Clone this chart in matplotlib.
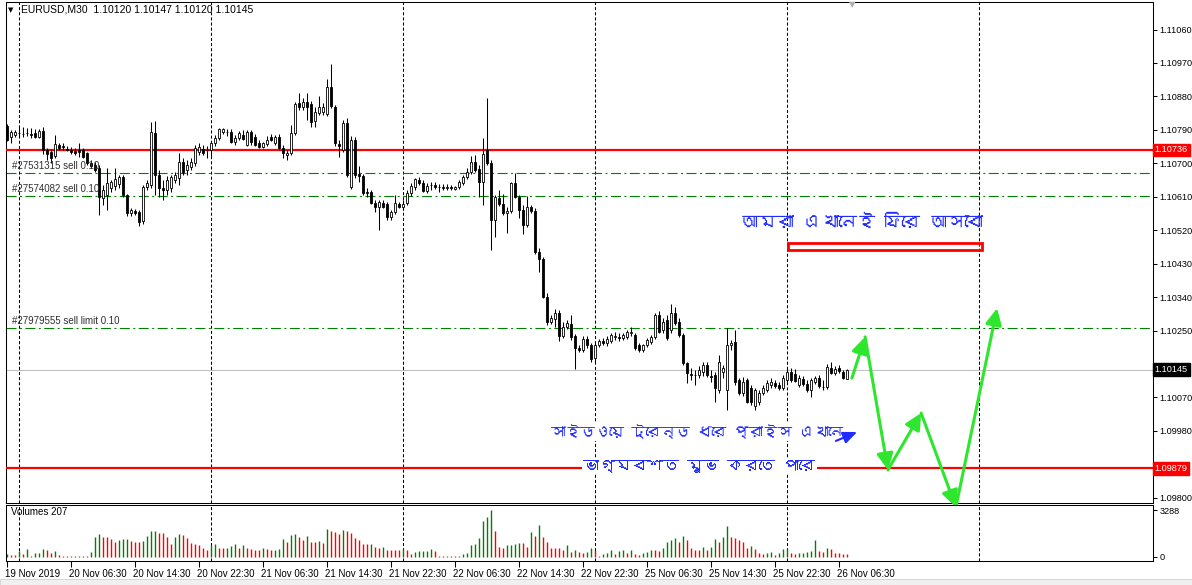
import numpy as np
import matplotlib
matplotlib.use("Agg")
import matplotlib.pyplot as plt
import matplotlib.transforms as mtransforms
from matplotlib import font_manager
from matplotlib.ft2font import FT2Font
from matplotlib.patches import Rectangle

# EURUSD M30 bars, prices in points (1e-5)
opens = [
    110800, 110770, 110776, 110781, 110779, 110781, 110779, 110781, 110770, 110787,
    110736, 110730, 110719, 110749, 110746, 110738, 110736, 110733, 110736, 110736,
    110727, 110701, 110695, 110687, 110606, 110614, 110633, 110639, 110644, 110663,
    110614, 110566, 110571, 110569, 110544, 110636, 110641, 110781, 110668, 110633,
    110628, 110633, 110655, 110660, 110703, 110682, 110690, 110701, 110730, 110738,
    110736, 110736, 110754, 110768, 110784, 110784, 110784, 110757, 110768, 110776,
    110749, 110784, 110770, 110754, 110744, 110752, 110770, 110754, 110770, 110741,
    110722, 110727, 110781, 110862, 110851, 110865, 110859, 110814, 110835, 110838,
    110832, 110905, 110851, 110752, 110736, 110808, 110636, 110762, 110671, 110666,
    110623, 110623, 110593, 110582, 110593, 110590, 110555, 110569, 110590, 110582,
    110593, 110620, 110636, 110655, 110647, 110625, 110641, 110641, 110636, 110636,
    110633, 110636, 110631, 110636, 110647, 110663, 110676, 110703, 110684, 110650,
    110736, 110701, 110547, 110606, 110590, 110566, 110571, 110647, 110609, 110574,
    110534, 110582, 110571, 110461, 110442, 110340, 110273, 110281, 110297, 110235,
    110259, 110267, 110235, 110203, 110198, 110227, 110211, 110176, 110211, 110222,
    110216, 110222, 110233, 110233, 110230, 110233, 110243, 110238, 110211, 110198,
    110211, 110219, 110233, 110292, 110251, 110278, 110251, 110297, 110273, 110238,
    110163, 110133, 110131, 110130, 110138, 110157, 110128, 110130, 110090, 110138,
    110090, 110211, 110219, 110117, 110082, 110117, 110095, 110047, 110058, 110082,
    110090, 110103, 110109, 110103, 110095, 110117, 110138, 110133, 110103, 110120,
    110106, 110090, 110111, 110122, 110098, 110098, 110149, 110136, 110149, 110138,
    110120,
]
highs = [
    110805, 110789, 110789, 110797, 110797, 110795, 110795, 110792, 110792, 110797,
    110741, 110736, 110776, 110754, 110754, 110746, 110744, 110741, 110754, 110741,
    110730, 110709, 110703, 110695, 110641, 110687, 110655, 110687, 110668, 110668,
    110617, 110579, 110577, 110574, 110641, 110655, 110811, 110814, 110682, 110655,
    110666, 110668, 110676, 110727, 110714, 110709, 110714, 110749, 110754, 110749,
    110746, 110760, 110776, 110795, 110795, 110792, 110792, 110776, 110787, 110789,
    110789, 110789, 110779, 110762, 110757, 110773, 110779, 110776, 110779, 110749,
    110736, 110803, 110865, 110889, 110875, 110889, 110867, 110851, 110881, 110862,
    110926, 110967, 110857, 110762, 110816, 110822, 110773, 110770, 110692, 110671,
    110633, 110628, 110601, 110601, 110601, 110596, 110574, 110614, 110596, 110601,
    110628, 110647, 110660, 110663, 110655, 110647, 110650, 110650, 110644, 110644,
    110644, 110641, 110639, 110655, 110668, 110687, 110719, 110722, 110695, 110768,
    110875, 110709, 110614, 110628, 110617, 110582, 110650, 110674, 110614, 110588,
    110612, 110588, 110579, 110472, 110448, 110351, 110292, 110308, 110305, 110273,
    110278, 110292, 110241, 110211, 110235, 110235, 110216, 110219, 110227, 110230,
    110235, 110243, 110246, 110243, 110243, 110251, 110259, 110243, 110216, 110214,
    110230, 110238, 110297, 110302, 110284, 110292, 110321, 110313, 110284, 110243,
    110165, 110149, 110144, 110154, 110165, 110165, 110144, 110138, 110184, 110157,
    110257, 110224, 110251, 110122, 110125, 110122, 110103, 110095, 110090, 110103,
    110117, 110122, 110117, 110111, 110130, 110149, 110149, 110147, 110130, 110128,
    110117, 110122, 110128, 110130, 110117, 110160, 110165, 110154, 110157, 110144,
    110147,
]
lows = [
    110760, 110754, 110770, 110770, 110770, 110773, 110768, 110768, 110768, 110725,
    110709, 110701, 110714, 110736, 110736, 110733, 110725, 110722, 110717, 110714,
    110695, 110687, 110676, 110561, 110588, 110574, 110623, 110628, 110633, 110609,
    110558, 110558, 110561, 110531, 110536, 110628, 110633, 110614, 110609, 110601,
    110614, 110623, 110647, 110641, 110668, 110668, 110682, 110692, 110722, 110722,
    110714, 110719, 110746, 110762, 110779, 110773, 110754, 110749, 110762, 110762,
    110746, 110749, 110746, 110741, 110741, 110746, 110760, 110749, 110738, 110714,
    110709, 110722, 110776, 110843, 110843, 110816, 110797, 110797, 110830, 110830,
    110827, 110848, 110746, 110717, 110730, 110663, 110631, 110660, 110650, 110614,
    110609, 110590, 110569, 110520, 110579, 110547, 110547, 110563, 110579, 110574,
    110588, 110612, 110628, 110641, 110623, 110620, 110628, 110631, 110623, 110628,
    110628, 110628, 110628, 110631, 110641, 110658, 110671, 110676, 110609, 110588,
    110695, 110467, 110501, 110585, 110561, 110512, 110566, 110606, 110553, 110510,
    110528, 110566, 110456, 110407, 110337, 110265, 110267, 110259, 110222, 110230,
    110254, 110224, 110147, 110192, 110192, 110203, 110165, 110165, 110206, 110211,
    110208, 110216, 110224, 110222, 110224, 110227, 110235, 110198, 110192, 110192,
    110206, 110214, 110227, 110243, 110243, 110224, 110243, 110265, 110233, 110157,
    110109, 110117, 110103, 110122, 110128, 110125, 110111, 110058, 110082, 110122,
    110036, 110198, 110103, 110076, 110074, 110055, 110050, 110036, 110050, 110076,
    110085, 110095, 110095, 110090, 110090, 110111, 110111, 110111, 110098, 110101,
    110085, 110071, 110106, 110095, 110090, 110093, 110133, 110130, 110136, 110120,
    110120,
]
closes = [
    110762, 110784, 110784, 110782, 110779, 110781, 110776, 110770, 110787, 110736,
    110725, 110714, 110752, 110741, 110744, 110736, 110730, 110727, 110730, 110717,
    110701, 110692, 110682, 110609, 110628, 110647, 110650, 110658, 110663, 110614,
    110566, 110574, 110566, 110542, 110636, 110647, 110784, 110668, 110633, 110628,
    110655, 110663, 110668, 110703, 110676, 110695, 110703, 110741, 110744, 110727,
    110737, 110754, 110768, 110792, 110792, 110785, 110757, 110768, 110781, 110765,
    110784, 110757, 110749, 110744, 110754, 110762, 110762, 110770, 110741, 110727,
    110727, 110781, 110859, 110851, 110865, 110851, 110811, 110838, 110851, 110851,
    110905, 110854, 110754, 110746, 110808, 110668, 110762, 110668, 110666, 110620,
    110621, 110593, 110582, 110596, 110582, 110555, 110569, 110593, 110582, 110590,
    110620, 110639, 110658, 110647, 110625, 110639, 110642, 110636, 110637, 110633,
    110636, 110633, 110636, 110650, 110663, 110676, 110703, 110682, 110650, 110725,
    110701, 110547, 110609, 110590, 110566, 110571, 110647, 110609, 110574, 110534,
    110582, 110571, 110461, 110442, 110340, 110273, 110284, 110297, 110235, 110259,
    110270, 110233, 110203, 110198, 110227, 110211, 110173, 110211, 110222, 110216,
    110227, 110238, 110234, 110230, 110238, 110246, 110246, 110203, 110198, 110211,
    110224, 110233, 110292, 110246, 110273, 110230, 110297, 110270, 110238, 110163,
    110136, 110131, 110130, 110144, 110157, 110130, 110125, 110095, 110165, 110149,
    110211, 110216, 110111, 110082, 110111, 110058, 110058, 110090, 110082, 110095,
    110109, 110111, 110101, 110095, 110122, 110138, 110117, 110114, 110122, 110106,
    110090, 110117, 110122, 110101, 110099, 110152, 110136, 110147, 110141, 110122,
    110145,
]
volumes = [
    221, 136, 130, 391, 221, 527, 85, 272, 289, 527,
    493, 255, 391, 119, 102, 60, 40, 55, 85, 100,
    70, 357, 1411, 1581, 1400, 1380, 1275, 1037, 1156, 1241,
    1250, 1122, 1071, 1050, 1122, 1496, 1802, 1815, 1700, 1690,
    1411, 935, 1411, 1581, 1530, 1360, 952, 901, 816, 646,
    510, 867, 901, 646, 595, 646, 765, 901, 595, 816,
    646, 527, 510, 476, 595, 561, 476, 510, 561, 1275,
    1037, 1547, 1615, 1411, 1156, 1445, 1071, 1060, 1105, 986,
    1955, 1800, 1750, 1615, 1887, 1850, 1666, 1300, 1156, 935,
    901, 920, 697, 646, 731, 476, 470, 465, 460, 561,
    476, 221, 357, 391, 400, 410, 555, 411, 103, 62,
    60, 103, 62, 103, 205, 308, 822, 884, 1336, 2528,
    2815, 3288, 1850, 719, 658, 822, 843, 925, 966, 960,
    719, 1747, 1439, 2261, 1377, 1027, 658, 617, 596, 514,
    822, 349, 514, 330, 300, 320, 616, 514, 103, 205,
    267, 514, 205, 411, 473, 308, 473, 205, 164, 247,
    349, 514, 473, 452, 616, 1027, 1192, 1336, 1027, 1438,
    1192, 658, 514, 473, 678, 473, 719, 1274, 1027, 1397,
    2158, 1377, 1295, 1192, 1027, 617, 760, 575, 247, 185,
    308, 370, 164, 308, 555, 575, 308, 205, 267, 308,
    349, 411, 1192, 411, 370, 658, 575, 267, 260, 215,
    207,
]

time_labels = ["19 Nov 2019", "20 Nov 06:30", "20 Nov 14:30", "20 Nov 22:30",
               "21 Nov 06:30", "21 Nov 14:30", "21 Nov 22:30", "22 Nov 06:30",
               "22 Nov 14:30", "22 Nov 22:30", "25 Nov 06:30", "25 Nov 14:30",
               "25 Nov 22:30", "26 Nov 06:30"]
label_bars = [0, 16, 32, 48, 64, 80, 96, 112, 128, 144, 160, 176, 192, 208]
day_separators = [3, 51, 99, 147, 195, 243]

price_ticks = [1.11060, 1.10970, 1.10880, 1.10790, 1.10700, 1.10610, 1.10520, 1.10430,
               1.10340, 1.10250, 1.10160, 1.10070, 1.09980, 1.09890, 1.09800]
hidden_ticks = [1.10160, 1.09890]  # sit under the price tags

red_levels = [1.10736, 1.09879]
order_names = ["#27531315 sell 0.10", "#27574082 sell 0.10", "#27979555 sell limit 0.10"]
order_prices = [1.10675, 1.10613, 1.10256]

# hand drawn annotations (bar index, price)
zone_bars = [195.2, 243.7]
zone_prices = [1.10468, 1.10486]
path_bars = [211.3, 214.6, 220.3, 228.6, 237.3, 247.6]
path_prices = [1.10122, 1.10233, 1.09875, 1.10028, 1.09775, 1.10310]
hint_bars = [207.3, 212.6]
hint_prices = [1.09953, 1.09977]
notes = ["আমরা এখানেই ফিরে আসবো", "সাইডওয়ে ট্রেন্ড ধরে প্রাইস এখানে", "ভাগ্যবশত মুভ করতে পারে"]
note_bars = [213.8, 172.6, 173.1]
note_prices = [1.10542, 1.09977, 1.09885]
note_sizes = [13, 10.5, 11.5]

W, H, DPI = 1192, 585, 100
BLUE = "#1f2bff"
LIME = "#2ee62e"


def font_with(ch):
    """First installed family that has a glyph for ch."""
    for f in font_manager.fontManager.ttflist:
        try:
            if ord(ch) in FT2Font(f.fname).get_charmap():
                return f.name
        except Exception:
            continue
    return None


bn = font_with("আ")
bn_family = [bn, "DejaVu Sans"] if bn else ["DejaVu Sans"]

plt.rcParams["font.family"] = ["Liberation Sans", "DejaVu Sans"]
plt.rcParams["lines.scale_dashes"] = False


def box(x0, y0, x1, y1):
    return [x0 / W, 1 - y1 / H, (x1 - x0) / W, (y1 - y0) / H]


fig = plt.figure(figsize=(W / DPI, H / DPI), dpi=DPI)
ax = fig.add_axes(box(6, 2, 1153, 503))
vax = fig.add_axes(box(6, 505, 1153, 561), sharex=ax)

o, h, l, c = (np.array(a) / 1e5 for a in (opens, highs, lows, closes))
vol = np.array(volumes)
x = np.arange(len(c))
bull = c > o

# candles
ax.vlines(x, l, h, color="black", lw=0.75, zorder=4)
ax.bar(x, np.maximum(np.abs(c - o), 0.000004), bottom=np.minimum(o, c), width=0.55,
       color=np.where(bull, "white", "black"), edgecolor="black", linewidth=0.6, zorder=5)

# levels
for p in red_levels:
    ax.axhline(p, color="red", lw=1.6, zorder=3)
ax.axhline(c[-1], color="#c0c0c0", lw=0.75, zorder=2)
for name, p in zip(order_names, order_prices):
    ax.axhline(p, color="#008000", lw=0.8, ls=(0, (7.2, 2.5, 1.4, 2.5)), zorder=2)
    ax.annotate(name, (1.3, p), xytext=(0, 1.5), textcoords="offset points",
                fontsize=7, color="#303030", va="bottom", ha="left", zorder=6)

for b in day_separators:
    for a in (ax, vax):
        a.axvline(b, color="black", lw=0.75, ls=(0, (2.2, 1.5)), zorder=1)

# drawn objects
ax.add_patch(Rectangle((zone_bars[0], zone_prices[0]), zone_bars[1] - zone_bars[0],
                       zone_prices[1] - zone_prices[0], fill=False, ec="red", lw=2.0, zorder=6))
for i in range(len(path_bars) - 1):
    ax.annotate("", xy=(path_bars[i + 1], path_prices[i + 1]), xytext=(path_bars[i], path_prices[i]),
                arrowprops=dict(arrowstyle="-|>,head_length=0.7,head_width=0.35", color=LIME,
                                lw=2.2, mutation_scale=14, shrinkA=0, shrinkB=0),
                annotation_clip=False, zorder=7)
ax.annotate("", xy=(hint_bars[1], hint_prices[1]), xytext=(hint_bars[0], hint_prices[0]),
            arrowprops=dict(arrowstyle="-|>,head_length=0.7,head_width=0.3", color=BLUE,
                            lw=1.5, mutation_scale=12, shrinkA=0, shrinkB=0), zorder=8)

ax.text(note_bars[0], note_prices[0], notes[0], family=bn_family, fontsize=note_sizes[0],
        color=BLUE, ha="center", va="center", zorder=7)
for t, b, p, fs in zip(notes[1:], note_bars[1:], note_prices[1:], note_sizes[1:]):
    ax.text(b, p, t, family=bn_family, fontsize=fs, color=BLUE, ha="center", va="center", zorder=7,
            bbox=dict(fc="white", ec="none", pad=1))

# axes styling
ax.set_xlim(-0.175, 286.575)
ax.set_ylim(1.09786, 1.11134)
ax.yaxis.tick_right()
ax.set_yticks(price_ticks)
ax.set_yticklabels(["" if p in hidden_ticks else f"{p:.5f}" for p in price_ticks])
ax.tick_params(axis="y", length=3, width=0.75, pad=1.5, labelsize=6.6, colors="black")
ax.tick_params(axis="x", bottom=False, labelbottom=False)

# price tags on the scale
tr = mtransforms.blended_transform_factory(ax.transAxes, ax.transData)
for p, bg in [(red_levels[0], "red"), (c[-1], "black"), (red_levels[1], "red")]:
    ax.text(1.0015, p, f"{p:.5f}", transform=tr, fontsize=6.6, color="white", ha="left", va="center",
            bbox=dict(fc=bg, ec=bg, pad=1.3), clip_on=False, zorder=10)

# volumes
vcol = np.where(np.r_[True, vol[1:] > vol[:-1]], "#008000", "#ff0000")
vax.vlines(x, 0, vol, colors=vcol, lw=1.0)
vax.set_ylim(-280, 3638)
vax.yaxis.tick_right()
vax.set_yticks([0, vol.max()])
vax.set_yticklabels(["0", str(vol.max())])
vax.tick_params(axis="y", length=3, width=0.75, pad=1.5, labelsize=6.6)
vax.set_xticks(label_bars)
vax.set_xticklabels(time_labels, ha="left")
vax.tick_params(axis="x", length=4, width=0.75, pad=2, labelsize=7)
for lbl in vax.get_xticklabels():
    lbl.set_transform(lbl.get_transform() + mtransforms.ScaledTranslation(-2 / DPI, 0, fig.dpi_scale_trans))
vax.text(0.004, 0.88, f"Volumes {vol[-1]}", transform=vax.transAxes, fontsize=7, va="center")

for a in (ax, vax):
    for s in a.spines.values():
        s.set_linewidth(0.75)
        s.set_color("black")

# header and chart furniture
fig.text(8 / W, 1 - 10 / H, "▼", family="DejaVu Sans", fontsize=5, va="center")
fig.text(21 / W, 1 - 10 / H, f"EURUSD,M30  {o[-1]:.5f} {h[-1]:.5f} {l[-1]:.5f} {c[-1]:.5f}",
         fontsize=7.5, va="center")
fig.text(852 / W, 1 - 5 / H, "▼", family="DejaVu Sans", fontsize=6, color="#b0b0b0",
         va="center", ha="center")
fig.add_artist(Rectangle((0, 0), 1, 6 / H, transform=fig.transFigure, fc="#f0f0f0", ec="#c8c8c8", lw=0.5))

fig.savefig("out.png", dpi=DPI)
